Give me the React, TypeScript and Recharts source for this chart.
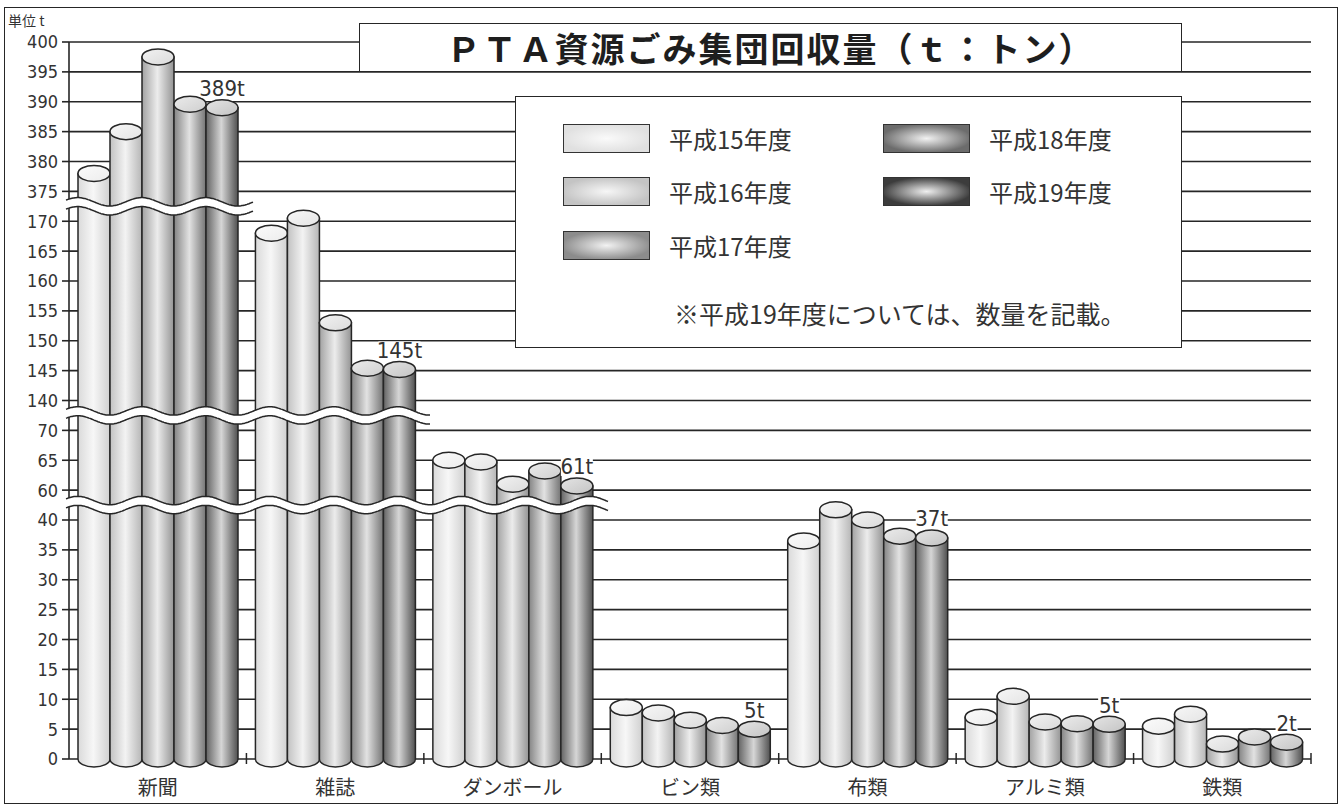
import React from 'react';
import {
  BarChart, Bar, XAxis, YAxis, CartesianGrid, ReferenceLine, Legend, LabelList,
} from 'recharts';

const CATEGORIES = ['新聞', '雑誌', 'ダンボール', 'ビン類', '布類', 'アルミ類', '鉄類'];
const SERIES = ['平成15年度', '平成16年度', '平成17年度', '平成18年度', '平成19年度'];
const H15 = [378, 168, 65, 8.6, 36.5, 7, 5.5];
const H16 = [385, 170.5, 64.7, 7.7, 41.7, 10.5, 7.5];
const H17 = [397.5, 153, 61, 6.5, 40, 6.2, 2.5];
const H18 = [389.6, 145.4, 63.2, 5.6, 37.3, 5.9, 3.7];
const H19 = [389, 145.2, 60.7, 5, 37, 5.8, 2.8];
const H19_LABELS = ['389t', '145t', '61t', '5t', '37t', '5t', '2t'];
const Y_TICKS = [
  0, 5, 10, 15, 20, 25, 30, 35, 40,
  60, 65, 70,
  140, 145, 150, 155, 160, 165, 170,
  375, 380, 385, 390, 395, 400,
];

const ALL = [H15, H16, H17, H18, H19];
const STEP = Y_TICKS[1] - Y_TICKS[0];

// broken axis: every tick gets one slot, values sit between their ticks
const toSlot = (v: number) => {
  let i = 0;
  while (i < Y_TICKS.length - 1 && Y_TICKS[i + 1] <= v) i++;
  return i + (v - Y_TICKS[i]) / STEP;
};
const SLOTS = Y_TICKS.map((_, i) => i);
const BREAKS = Y_TICKS.slice(0, -1)
  .map((t, i) => (Y_TICKS[i + 1] - t > STEP ? i + 0.5 : -1))
  .filter((b) => b >= 0);
const groupsOver = (b: number) => {
  let n = 0;
  while (n < CATEGORIES.length && ALL.every((s) => toSlot(s[n]) > b)) n++;
  return n;
};

const data = CATEGORIES.map((name, i) => ({
  name,
  s0: toSlot(H15[i]),
  s1: toSlot(H16[i]),
  s2: toSlot(H17[i]),
  s3: toSlot(H18[i]),
  s4: toSlot(H19[i]),
  tag: H19_LABELS[i],
}));

const W = 1341;
const H = 808;
const PLOT_LEFT = 69;
const PLOT_RIGHT = 1311;
const BAR_W = 32;
const NUM_FONT = "'Liberation Sans Narrow', 'DejaVu Sans Condensed', 'Liberation Sans', sans-serif";
const JP_FONT = "'Noto Sans CJK JP', 'Noto Sans', sans-serif";
const INK = '#262626';

const BODY = [
  ['#dadada', '#f7f7f7', '#d0d0d0'],
  ['#c2c2c2', '#f3f3f3', '#b6b6b6'],
  ['#a2a2a2', '#ececec', '#949494'],
  ['#848484', '#e2e2e2', '#747474'],
  ['#636363', '#d6d6d6', '#505050'],
];
const TOP = [
  ['#fbfbfb', '#ececec'],
  ['#f7f7f7', '#e4e4e4'],
  ['#f2f2f2', '#dadada'],
  ['#ebebeb', '#cfcfcf'],
  ['#e4e4e4', '#c4c4c4'],
];
const SWATCH = [
  ['#fafafa', '#e0e0e0'],
  ['#f6f6f6', '#c4c4c4'],
  ['#f2f2f2', '#8c8c8c'],
  ['#f2f2f2', '#6c6c6c'],
  ['#f0f0f0', '#3c3c3c'],
];

const Cylinder = (props: any) => {
  const { x, y, width, height, sIdx } = props;
  if (width == null || height == null || height <= 0) return null;
  const rx = width / 2;
  const ry = 8;
  const bottom = y + height;
  return (
    <g>
      <path
        d={`M${x},${y} L${x},${bottom} A${rx},${ry} 0 0 0 ${x + width},${bottom} L${x + width},${y} Z`}
        fill={`url(#body${sIdx})`}
        stroke={INK}
        strokeWidth={1.5}
      />
      <ellipse cx={x + rx} cy={y} rx={rx} ry={ry} fill={`url(#top${sIdx})`} stroke={INK} strokeWidth={1.5} />
    </g>
  );
};

const Wave = (props: any, groups: number) => {
  const { x1, x2, y1 } = props;
  if (x1 == null || y1 == null) return null;
  const band = (x2 - x1) / CATEGORIES.length;
  const barsStart = x1 + (band - SERIES.length * BAR_W) / 2;
  const start = x1 - 3;
  const end = x1 + groups * band + 7;
  const period = 2 * BAR_W;
  const amp = 4.2;
  const half = 4.5;
  const mid: [number, number][] = [];
  for (let x = start; x <= end; x += 1) {
    mid.push([x, y1 - amp * Math.cos((2 * Math.PI * (x - barsStart)) / period)]);
  }
  const top = mid.map(([x, y]) => `${x.toFixed(1)},${(y - half).toFixed(1)}`);
  const bot = mid.map(([x, y]) => `${x.toFixed(1)},${(y + half).toFixed(1)}`);
  return (
    <g>
      <path d={`M${top.join(' L')} L${bot.slice().reverse().join(' L')} Z`} fill="#fff" stroke="none" />
      <path d={`M${top.join(' L')}`} fill="none" stroke={INK} strokeWidth={1.5} />
      <path d={`M${bot.join(' L')}`} fill="none" stroke={INK} strokeWidth={1.5} />
    </g>
  );
};

const ValueTag = (props: any) => {
  const { x, y, width, value } = props;
  if (x == null || value == null) return null;
  const cx = x + width / 2;
  const cy = y - 19;
  const w = String(value).length * 10 + 2;
  return (
    <g>
      <rect x={cx - w / 2} y={cy - 9} width={w} height={18} fill="#fff" />
      <text x={cx} y={cy} textAnchor="middle" dominantBaseline="central" fontFamily={NUM_FONT} fontSize={22} fill="#333">
        {value}
      </text>
    </g>
  );
};

const CatTick = (props: any) => {
  const { x, y, payload } = props;
  const band = (PLOT_RIGHT - PLOT_LEFT) / CATEGORIES.length;
  const bx = x + band / 2;
  return (
    <g>
      <line x1={bx} x2={bx} y1={y - 6} y2={y + 5} stroke={INK} strokeWidth={1.5} />
      <text x={x} y={y + 27} textAnchor="middle" dominantBaseline="central" fontFamily={JP_FONT} fontSize={20} fill="#333">
        {payload.value}
      </text>
    </g>
  );
};

const LegendBox = (props: any) => {
  const { payload = [] } = props;
  const rows = [41, 94, 148];
  return (
    <div style={{ position: 'relative', width: 667, height: 252, boxSizing: 'border-box', border: `1.5px solid ${INK}`, background: '#fff' }}>
      {payload.map((entry: any, i: number) => {
        const col = i < 3 ? 0 : 1;
        const row = i < 3 ? i : i - 3;
        const left = col === 0 ? 47 : 367;
        const cy = rows[row];
        return (
          <div key={entry.value} style={{ position: 'absolute', left, top: cy - 15, height: 30, display: 'flex', alignItems: 'center' }}>
            <div
              style={{
                width: 87,
                height: 29,
                boxSizing: 'border-box',
                border: '1.5px solid #333',
                background: `radial-gradient(ellipse at 50% 50%, ${SWATCH[i][0]} 0%, ${SWATCH[i][1]} 75%)`,
              }}
            />
            <span style={{ marginLeft: 19, fontFamily: JP_FONT, fontSize: 24, color: '#333', whiteSpace: 'nowrap' }}>
              {entry.value}
            </span>
          </div>
        );
      })}
      <div style={{ position: 'absolute', left: 158, top: 216 - 17, height: 34, lineHeight: '34px', fontFamily: JP_FONT, fontSize: 25, color: '#333', whiteSpace: 'nowrap' }}>
        ※平成19年度については、数量を記載。
      </div>
    </div>
  );
};

export default function App() {
  return (
    <div style={{ position: 'absolute', left: 0, top: 0, width: W, height: H, background: '#fff' }}>
      <BarChart
        width={W}
        height={H}
        data={data}
        margin={{ top: 42, right: W - PLOT_RIGHT, bottom: 0, left: 0 }}
        barGap={0}
        barSize={BAR_W}
      >
        <defs>
          {BODY.map((c, i) => (
            <linearGradient key={`b${i}`} id={`body${i}`} x1="0" y1="0" x2="1" y2="0">
              <stop offset="0%" stopColor={c[0]} />
              <stop offset="48%" stopColor={c[1]} />
              <stop offset="100%" stopColor={c[2]} />
            </linearGradient>
          ))}
          {TOP.map((c, i) => (
            <linearGradient key={`t${i}`} id={`top${i}`} x1="0" y1="0" x2="1" y2="1">
              <stop offset="0%" stopColor={c[0]} />
              <stop offset="100%" stopColor={c[1]} />
            </linearGradient>
          ))}
        </defs>
        <CartesianGrid vertical={false} stroke={INK} strokeWidth={1.6} />
        <XAxis
          dataKey="name"
          height={H - 759}
          axisLine={false}
          tickLine={false}
          tickSize={0}
          tickMargin={0}
          interval={0}
          tick={<CatTick />}
        />
        <YAxis
          type="number"
          domain={[0, Y_TICKS.length - 1]}
          ticks={SLOTS}
          interval={0}
          width={PLOT_LEFT}
          allowDecimals={false}
          tickFormatter={(s: number) => String(Y_TICKS[s])}
          axisLine={{ stroke: INK, strokeWidth: 1.6 }}
          tickLine={{ stroke: INK, strokeWidth: 1.6 }}
          tickSize={7}
          tickMargin={4}
          tick={{ fontFamily: NUM_FONT, fontSize: 18, fill: '#333' }}
        />
        {SERIES.map((name, i) => (
          <Bar
            key={name}
            dataKey={`s${i}`}
            name={name}
            fill={BODY[i][0]}
            isAnimationActive={false}
            shape={(p: any) => <Cylinder {...p} sIdx={i} />}
          >
            {i === SERIES.length - 1 && <LabelList dataKey="tag" content={<ValueTag />} />}
          </Bar>
        ))}
        {BREAKS.map((b) => (
          <ReferenceLine
            key={b}
            y={b}
            zIndex={1500}
            stroke="none"
            shape={(p: any) => Wave(p, groupsOver(b))}
          />
        ))}
        <Legend
          layout="horizontal"
          verticalAlign="middle"
          align="center"
          wrapperStyle={{ position: 'absolute', left: 515, top: 96, width: 667, height: 252 }}
          content={<LegendBox />}
        />
      </BarChart>
      <div style={{ position: 'absolute', left: 8, top: 10, fontFamily: JP_FONT, fontSize: 14, color: '#333' }}>
        単位 t
      </div>
      <div
        style={{
          position: 'absolute',
          left: 359,
          top: 23,
          width: 823,
          height: 49,
          boxSizing: 'border-box',
          border: `1.5px solid ${INK}`,
          background: '#fff',
          display: 'flex',
          alignItems: 'center',
          justifyContent: 'center',
          fontFamily: JP_FONT,
          fontWeight: 600,
          fontSize: 34,
          letterSpacing: 2,
          color: '#1e1e1e',
        }}
      >
        ＰＴＡ資源ごみ集団回収量（ｔ：トン）
      </div>
      <div
        style={{
          position: 'absolute',
          left: 4,
          top: 7,
          width: 1334,
          height: 797,
          boxSizing: 'border-box',
          border: `1.5px solid ${INK}`,
          pointerEvents: 'none',
        }}
      />
    </div>
  );
}
